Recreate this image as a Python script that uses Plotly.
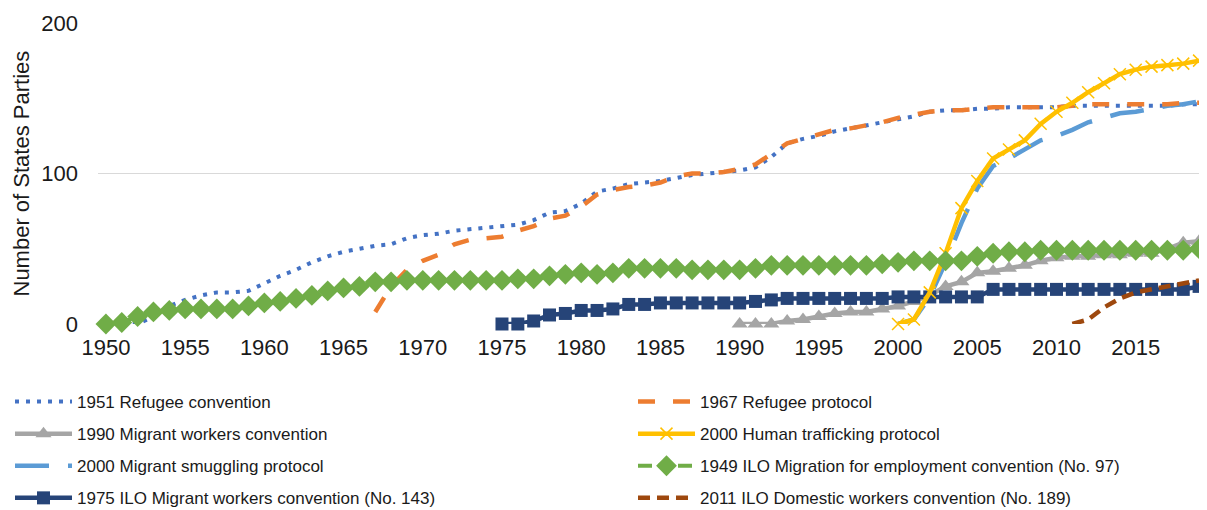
import plotly.graph_objects as go

# ---- data ----
ilo97_years = list(range(1950, 2020))
ilo97_vals = [0, 1, 5, 8, 9, 10, 10, 10, 10, 12,
              14, 15, 17, 19, 22, 24, 25, 28, 28, 29,
              29, 29, 29, 29, 29, 29, 30, 30, 32, 33,
              34, 33, 34, 37, 37, 37, 37, 36, 36, 36,
              36, 37, 39, 39, 39, 39, 39, 39, 39, 40,
              41, 42, 42, 42, 42, 45, 47, 48, 48, 49,
              49, 49, 49, 49, 49, 49, 49, 49, 49, 50]

ref51_years = list(range(1951, 2020))
ref51_vals = [0, 0, 5, 12, 16, 19, 21, 21, 22,
              27, 32, 36, 41, 45, 48, 50, 52, 53, 57,
              59, 60, 62, 63, 64, 65, 66, 69, 74, 75,
              80, 88, 90, 93, 94, 95, 97, 99, 100, 101,
              102, 104, 111, 120, 123, 125, 128, 130, 132, 134,
              136, 138, 141, 142, 142, 143, 143, 144, 144, 144,
              144, 145, 145, 145, 145, 145, 145, 145, 146, 146]

ref67_years = list(range(1967, 2020))
ref67_vals = [8, 25, 36,
              42, 46, 53, 56, 57, 58, 62, 65, 70, 72,
              78, 86, 89, 91, 92, 94, 98, 100, 100, 101,
              103, 106, 113, 120, 123, 126, 129, 130, 132, 134,
              137, 139, 141, 142, 142, 143, 144, 144, 144, 144,
              144, 145, 146, 146, 146, 146, 146, 146, 147, 147]

cmw_years = list(range(1990, 2020))
cmw_vals = [0, 0, 0, 2, 3, 5, 7, 8, 8, 10,
            12, 15, 19, 25, 28, 34, 35, 37, 39, 42,
            44, 45, 45, 46, 46, 47, 47, 50, 54, 55]

traf_years = list(range(2000, 2020))
traf_vals = [0, 3, 21, 47, 77, 95, 110, 116, 122, 133,
             141, 147, 154, 160, 166, 169, 171, 172, 173, 175]

smug_years = list(range(2000, 2020))
smug_vals = [0, 3, 18, 41, 67, 90, 105, 110, 116, 122,
             125, 129, 134, 137, 140, 141, 143, 145, 146, 148]

ilo143_years = list(range(1975, 2020))
ilo143_vals = [0, 0, 2, 6, 7,
               9, 9, 10, 13, 13, 14, 14, 14, 14, 14,
               14, 15, 16, 17, 17, 17, 17, 17, 17, 17,
               18, 18, 18, 18, 18, 18, 23, 23, 23, 23,
               23, 23, 23, 23, 23, 23, 23, 23, 23, 25]

ilo189_years = list(range(2011, 2020))
ilo189_vals = [0, 3, 11, 17, 21, 23, 25, 27, 29]

x_ticks = list(range(1950, 2020, 5))
y_ticks = [0, 100, 200]
y_title = "Number of States Parties"

FONT = "Liberation Sans, Arial, sans-serif"
# the page body adds an 8px offset; the figure is sized so it ends at the window edge
OFF = 8
W = 1207 - OFF
H = 510 - OFF
ML, MT = 98 - OFF, 23 - OFF
MB = H - (324 - OFF)
PLOT_W = W - ML

fig = go.Figure()

def add(name, xs, ys, color, width, dash, legend, group, symbol=None, msize=0, mline=None):
    kw = dict(x=xs, y=ys, name=name, mode="lines", legend=legend, legendgroup=group,
              line=dict(color=color, width=width, dash=dash), cliponaxis=False)
    if symbol:
        kw["mode"] = "lines+markers"
        m = dict(symbol=symbol, size=msize, color=color)
        if mline:
            m["line"] = mline
        kw["marker"] = m
    fig.add_trace(go.Scatter(**kw))

# left legend column
add("1951 Refugee convention", ref51_years, ref51_vals, "#4472C4", 4, "4px,7px", "legend", "a")
add("1990 Migrant workers convention", cmw_years, cmw_vals, "#A5A5A5", 4.5, "solid", "legend", "b",
    symbol="triangle-up", msize=14)
add("2000 Migrant smuggling protocol", smug_years, smug_vals, "#5B9BD5", 4.5, "34px,19px", "legend", "c")
add("1975 ILO Migrant workers convention (No. 143)", ilo143_years, ilo143_vals, "#264478", 4.5, "solid",
    "legend", "d", symbol="square", msize=13)
# right legend column
add("1967 Refugee protocol", ref67_years, ref67_vals, "#ED7D31", 4.5, "17px,18px", "legend2", "e")
add("2000 Human trafficking protocol", traf_years, traf_vals, "#FFC000", 4.5, "solid", "legend2", "f",
    symbol="x-thin", msize=12, mline=dict(color="#FFC000", width=1.5))
add("1949 ILO Migration for employment convention (No. 97)", ilo97_years, ilo97_vals, "#70AD47", 4,
    "14px,6px", "legend2", "g", symbol="diamond", msize=16)
add("2011 ILO Domestic workers convention (No. 189)", ilo189_years, ilo189_vals, "#9E480E", 4.5,
    "12px,7px", "legend2", "h")

leg_common = dict(
    orientation="v", traceorder="grouped", tracegroupgap=7,
    font=dict(family=FONT, size=17, color="#1a1a1a"),
    itemwidth=57, bgcolor="rgba(0,0,0,0)", borderwidth=0,
    xref="container", yref="container", xanchor="left", yanchor="top",
)

fig.update_layout(
    width=W, height=H,
    margin=dict(l=ML, r=0, t=MT, b=MB, pad=0, autoexpand=False),
    plot_bgcolor="white", paper_bgcolor="white",
    font=dict(family=FONT, size=22, color="#1a1a1a"),
    showlegend=True,
    legend=dict(x=2 / W, y=1 - 376 / H, **leg_common),
    legend2=dict(x=625 / W, y=1 - 376 / H, **leg_common),
    xaxis=dict(
        range=[1949.5, 2019.5], tickmode="array", tickvals=x_ticks,
        ticktext=[str(v) for v in x_ticks], showgrid=False, zeroline=False,
        showline=False, ticks="", tickfont=dict(size=22), ticklabelstandoff=8,
    ),
    yaxis=dict(
        range=[0, 200], tickmode="array", tickvals=y_ticks,
        showgrid=True, gridcolor="#D9D9D9", gridwidth=1.3, zeroline=False,
        showline=False, ticks="", tickfont=dict(size=22), ticklabelstandoff=19,
    ),
    annotations=[dict(
        text=y_title, textangle=-90, showarrow=False,
        xref="paper", yref="paper", x=(21 - OFF - ML) / PLOT_W, y=0.5,
        xanchor="center", yanchor="middle", font=dict(family=FONT, size=22, color="#1a1a1a"),
    )],
)

fig.write_html("out.html")
